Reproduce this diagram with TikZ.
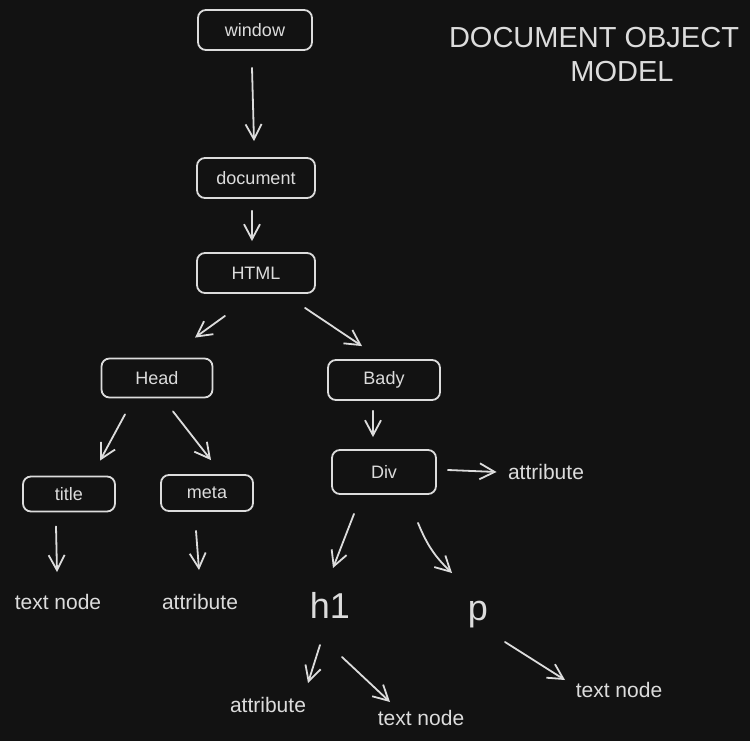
\documentclass[tikz,border=0pt]{standalone}
\usepackage{fontspec}
\setmainfont{Liberation Sans}
\usetikzlibrary{positioning, arrows.meta, calc}
\definecolor{inkgrey}{HTML}{DCDCDC}
\definecolor{darkbg}{HTML}{121212}

\begin{document}
\begin{tikzpicture}[x=1pt, y=-1pt,
  every node/.style={text=inkgrey, font=\fontsize{18}{21}\selectfont},
  dom node/.style={draw=inkgrey, line width=1.8pt, rounded corners=8pt,
    minimum height=40pt, inner sep=0pt},
  leaf/.style={font=\fontsize{21}{24}\selectfont},
  big leaf/.style={font=\fontsize{36}{40}\selectfont},
  heading/.style={font=\fontsize{29}{34}\selectfont},
  arr/.style={draw=inkgrey, line width=1.8pt, line cap=round,
    -{Straight Barb[length=15pt, width=16pt]}}]

\fill[darkbg] (0,0) rectangle (750,741);
\useasboundingbox (0,0) rectangle (750,741);

% tree boxes
\node[dom node, minimum width=114pt] (window) at (255,30) {window};
\node[dom node, minimum width=118pt] (document) at (256,178) {document};
\node[dom node, minimum width=118pt] (html) at (256,273) {HTML};
\node[dom node, minimum width=111pt, minimum height=39pt] (head) at (157,378) {Head};
\node[dom node, minimum width=112pt] (body) at (384,380) {Bady};
\node[dom node, minimum width=92pt, minimum height=35pt] (title) at (69,494) {title};
\node[dom node, minimum width=92pt, minimum height=36pt] (meta) at (207,493) {meta};
\node[dom node, minimum width=104pt, minimum height=44pt] (div) at (384,472) {Div};

% leaves
\node[leaf] (titletext) at (58,602) {text node};
\node[leaf] (metaattr) at (200,602) {attribute};
\node[leaf] (divattr) at (546,472) {attribute};
\node[big leaf] (h1) at (330,605) {h1};
\node[big leaf] (p) at (478,615) {p};
\node[leaf] (h1attr) at (268,705) {attribute};
\node[leaf] (h1text) at (421,718) {text node};
\node[leaf] (ptext) at (619,690) {text node};

% heading
\node[heading] (headline) at (594,38) {DOCUMENT OBJECT};
\node[heading] (headline2) at (622,72) {MODEL};

% arrows
\draw[arr] ($(window.south)+(-3,17)$) -- ($(document.north)+(-2,-16)$);
\draw[arr] ($(document.south)+(-4,12)$) -- ($(html.north)+(-4,-11)$);
\draw[arr] ($(html.south)+(-31,22)$) -- ($(head.north)+(38,-20)$);
\draw[arr] ($(html.south)+(49,14)$) -- ($(body.north)+(-22,-13)$);
\draw[arr] ($(head.south)+(-32,16)$) -- ($(title.north)+(31,-15)$);
\draw[arr] ($(head.south)+(16,13)$) -- ($(meta.north)+(4,-14)$);
\draw[arr] ($(title.south)+(-13,14)$) -- ($(titletext)+(-1,-30)$);
\draw[arr] ($(meta.south)+(-11,19)$) -- ($(metaattr)+(-1,-32)$);
\draw[arr] ($(body.south)+(-11,10)$) -- ($(div.north)+(-11,-12)$);
\draw[arr] ($(div.east)+(11,-2)$) -- ($(divattr.west)+(-8,0)$);
\draw[arr] ($(div.south)+(-30,19)$) -- ($(h1)+(3,-37)$);
\draw[arr] ($(div.south)+(34,28)$) to[bend right=12] ($(p)+(-26,-42)$);
\draw[arr] ($(h1)+(-10,40)$) -- ($(h1attr)+(40,-22)$);
\draw[arr] ($(h1)+(12,52)$) -- ($(h1text)+(-31,-16)$);
\draw[arr] ($(p)+(27,27)$) -- ($(ptext)+(-54,-10)$);

\end{tikzpicture}
\end{document}
